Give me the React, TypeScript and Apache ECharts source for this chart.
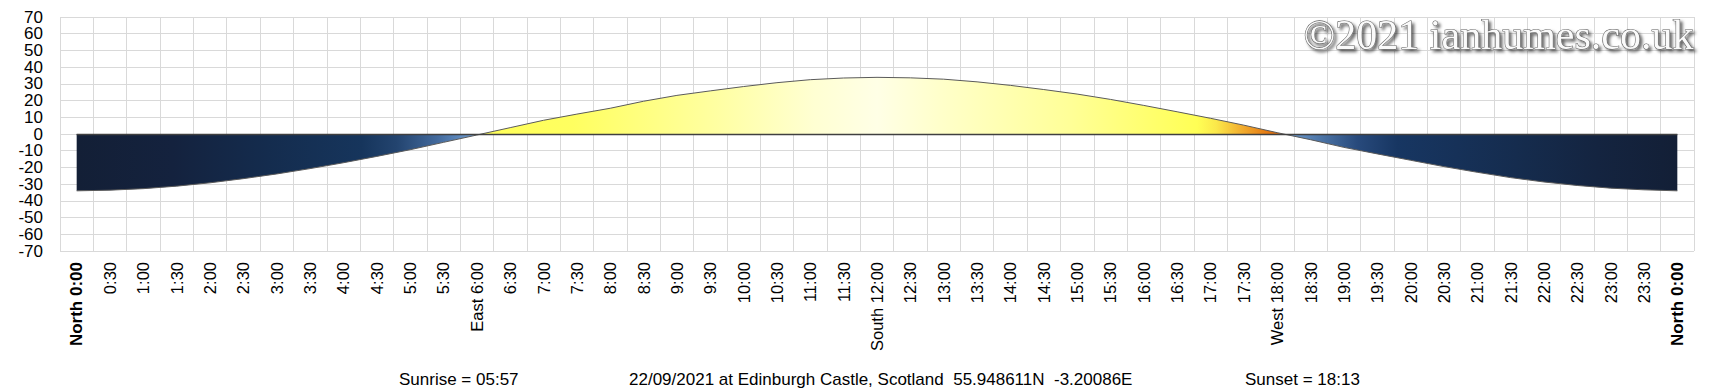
import React, { useEffect, useRef } from "react";
import * as echarts from "echarts";

const categories: string[] = [
  "North 0:00", "0:30", "1:00", "1:30", "2:00", "2:30", "3:00", "3:30", "4:00", "4:30", "5:00", "5:30",
  "East 6:00", "6:30", "7:00", "7:30", "8:00", "8:30", "9:00", "9:30", "10:00", "10:30", "11:00", "11:30",
  "South 12:00", "12:30", "13:00", "13:30", "14:00", "14:30", "15:00", "15:30", "16:00", "16:30", "17:00", "17:30",
  "West 18:00", "18:30", "19:00", "19:30", "20:00", "20:30", "21:00", "21:30", "22:00", "22:30", "23:00", "23:30",
  "North 0:00",
];

// Sun elevation (degrees) every 30 minutes
const elevation: number[] = [
  -34.0, -33.6, -32.7, -31.2, -29.2, -26.7, -23.9, -20.7, -17.2, -13.4, -9.4, -5.0,
  -0.6, 3.8, 8.2, 11.9, 15.4, 19.6, 23.1, 25.8, 28.4, 30.7, 32.5, 33.5,
  33.9, 33.6, 32.8, 31.2, 29.1, 26.6, 23.9, 20.7, 17.1, 13.3, 9.4, 5.3,
  0.8, -3.4, -8.0, -11.9, -15.7, -19.5, -22.9, -26.1, -28.7, -30.8, -32.4, -33.4,
  -34.0,
];

const yTicks: number[] = [70, 60, 50, 40, 30, 20, 10, 0, -10, -20, -30, -40, -50, -60, -70];
const yMin = -70;
const yMax = 70;
const yStep = 10;

const titleText = "22/09/2021 at Edinburgh Castle, Scotland  55.948611N  -3.20086E";
const sunriseText = "Sunrise = 05:57";
const sunsetText = "Sunset = 18:13";
const watermark = "\u00A92021 ianhumes.co.uk";

const FONT = "'Liberation Sans', Arial, sans-serif";
const GRID_LEFT = 60;
const Y_LABEL_GAP = 17;

export default function App() {
  const ref = useRef<HTMLDivElement>(null);

  useEffect(() => {
    if (!ref.current) return;
    const chart = echarts.init(ref.current, undefined, { renderer: "svg" });

    const gradient = new echarts.graphic.LinearGradient(0, 0, 1, 0, [
      { offset: 0.0, color: "#131f36" },
      { offset: 0.06, color: "#14223e" },
      { offset: 0.12, color: "#142c4e" },
      { offset: 0.178, color: "#16355c" },
      { offset: 0.2, color: "#23446f" },
      { offset: 0.225, color: "#42699c" },
      { offset: 0.2525, color: "#76a6dc" },
      { offset: 0.2528, color: "#ffff58" },
      { offset: 0.31, color: "#ffff60" },
      { offset: 0.4, color: "#ffffa2" },
      { offset: 0.46, color: "#ffffd2" },
      { offset: 0.5, color: "#ffffe6" },
      { offset: 0.54, color: "#ffffca" },
      { offset: 0.62, color: "#ffff98" },
      { offset: 0.7, color: "#ffff55" },
      { offset: 0.712, color: "#fbe84a" },
      { offset: 0.728, color: "#f2ad2e" },
      { offset: 0.745, color: "#e3750f" },
      { offset: 0.7536, color: "#dc6a0a" },
      { offset: 0.7539, color: "#70a0d6" },
      { offset: 0.775, color: "#4f78aa" },
      { offset: 0.8, color: "#284a7c" },
      { offset: 0.825, color: "#173662" },
      { offset: 0.9, color: "#152c4e" },
      { offset: 0.95, color: "#142440" },
      { offset: 1.0, color: "#131f36" },
    ]);

    const staticGraphics: any[] = [
      {
        type: "text",
        right: 16,
        top: 13,
        z: 100,
        style: {
          text: watermark,
          fontFamily: "'Liberation Serif', 'DejaVu Serif', serif",
          fontSize: 42,
          fill: "#fafafa",
          stroke: "#5e5e5e",
          lineWidth: 1.1,
          textShadowColor: "rgba(0,0,0,0.6)",
          textShadowBlur: 3,
          textShadowOffsetX: 2.5,
          textShadowOffsetY: 2.5,
        },
      },
      {
        type: "text",
        x: 399,
        y: 379,
        style: { text: sunriseText, fontFamily: FONT, fontSize: 17, fill: "#000", verticalAlign: "middle", align: "left" },
      },
      {
        type: "text",
        x: 629,
        y: 379,
        style: { text: titleText, fontFamily: FONT, fontSize: 17, fill: "#000", verticalAlign: "middle", align: "left" },
      },
      {
        type: "text",
        x: 1245,
        y: 379,
        style: { text: sunsetText, fontFamily: FONT, fontSize: 17, fill: "#000", verticalAlign: "middle", align: "left" },
      },
    ];

    chart.setOption({
      animation: false,
      backgroundColor: "#ffffff",
      grid: { left: GRID_LEFT, right: 16, top: 17, bottom: 138, containLabel: false },
      xAxis: {
        type: "category",
        data: categories,
        boundaryGap: true,
        axisLine: { show: false, onZero: false },
        axisTick: { show: false },
        splitLine: { show: true, interval: 0, lineStyle: { color: "#d9d9d9", width: 1 } },
        axisLabel: {
          interval: 0,
          rotate: 90,
          margin: 11,
          color: "#000",
          fontSize: 16.5,
          fontFamily: FONT,
          formatter: (v: string) => (v.indexOf("North") === 0 ? `{b|${v}}` : v),
          rich: { b: { fontWeight: "bold", fontSize: 17, fontFamily: FONT, color: "#000" } },
        },
      },
      yAxis: {
        type: "value",
        min: yMin,
        max: yMax,
        interval: yStep,
        axisLine: { show: false },
        axisTick: { show: false },
        splitLine: { show: true, lineStyle: { color: "#d9d9d9", width: 1 } },
        axisLabel: { show: false },
      },
      series: [
        {
          type: "line",
          data: elevation,
          showSymbol: false,
          symbol: "none",
          smooth: false,
          lineStyle: { color: "#5a5a5a", width: 1 },
          areaStyle: { color: gradient, opacity: 1, origin: "auto" },
          markLine: {
            silent: true,
            symbol: ["none", "none"],
            label: { show: false },
            lineStyle: { color: "#404040", width: 1.3, type: "solid" },
            data: [[{ xAxis: 0, yAxis: 0 }, { xAxis: categories.length - 1, yAxis: 0 }]],
          },
        },
      ],
      graphic: staticGraphics,
    });

    // y-axis tick labels, positioned through the axis scale
    const yLabels = yTicks.map((v) => {
      const py = chart.convertToPixel({ yAxisIndex: 0 }, v) as number;
      return {
        type: "text",
        x: GRID_LEFT - Y_LABEL_GAP,
        y: py,
        style: {
          text: String(v),
          fontFamily: FONT,
          fontSize: 17,
          fill: "#000",
          align: "right",
          verticalAlign: "middle",
        },
      };
    });

    chart.setOption({ graphic: [...staticGraphics, ...yLabels] });

    return () => chart.dispose();
  }, []);

  return (
    <div
      ref={ref}
      style={{ position: "fixed", left: 0, top: 0, width: 1710, height: 389, background: "#fff" }}
    />
  );
}
